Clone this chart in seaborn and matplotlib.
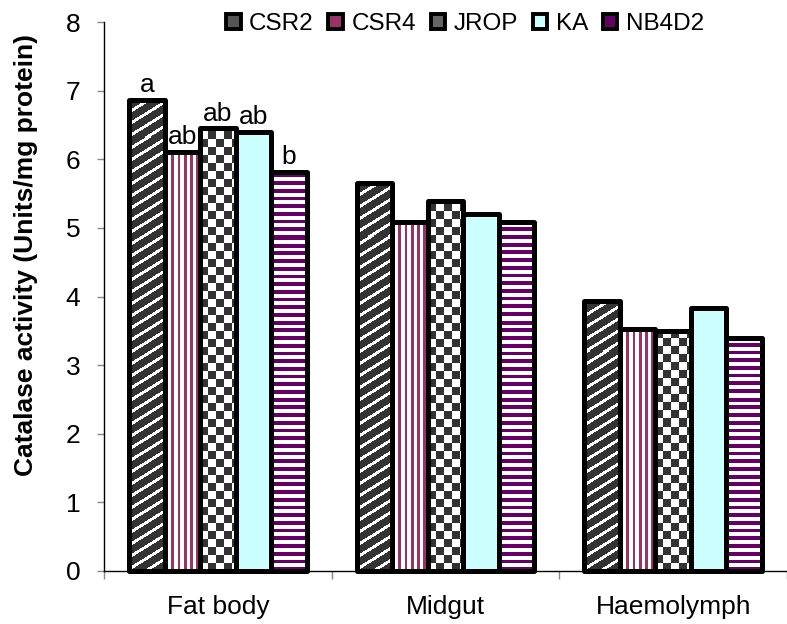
import numpy as np
import pandas as pd
import matplotlib
matplotlib.use('Agg')
import matplotlib.pyplot as plt
from matplotlib.colors import to_rgb
from matplotlib.patches import Rectangle, Patch
import seaborn as sns

# data
tissues = ['Fat body', 'Midgut', 'Haemolymph']
strains = ['CSR2', 'CSR4', 'JROP', 'KA', 'NB4D2']
csr2 = [6.87, 5.66, 3.94]
csr4 = [6.11, 5.09, 3.53]
jrop = [6.45, 5.39, 3.50]
ka = [6.40, 5.20, 3.83]
nb4d2 = [5.82, 5.09, 3.40]
fat_body_letters = ['a', 'ab', 'ab', 'ab', 'b']

# look of each strain: base colour, pattern ink, pattern kind
faces = {'CSR2': '#333333', 'CSR4': '#ffffff', 'JROP': '#ffffff', 'KA': '#ccffff', 'NB4D2': '#ffffff'}
inks = {'CSR2': '#ffffff', 'CSR4': '#993366', 'JROP': '#333333', 'KA': None, 'NB4D2': '#660066'}
legend_cols = {'CSR2': '#555555', 'CSR4': '#993366', 'JROP': '#666666', 'KA': '#ccffff', 'NB4D2': '#660066'}

df = pd.DataFrame({
    'tissue': tissues * 5,
    'strain': np.repeat(strains, 3),
    'activity': csr2 + csr4 + jrop + ka + nb4d2,
})


def pattern_mask(strain, nx, ny):
    # boolean ink mask in pixel units, row 0 at the bottom
    yy, xx = np.indices((ny, nx)) + 0.5
    if strain == 'CSR2':
        return ((yy - 0.62 * xx) % 12.0) < 3.5
    if strain == 'CSR4':
        return (xx % 6.3) < 2.8
    if strain == 'JROP':
        return ((xx // 8 + yy // 8) % 2) == 1
    if strain == 'NB4D2':
        return (yy % 7.7) < 3.8
    return np.zeros((ny, nx), bool)


sns.set_theme(style='white')
plt.rcParams['font.family'] = ['Liberation Sans', 'DejaVu Sans']
plt.rcParams.update({'text.color': 'black', 'axes.labelcolor': 'black',
                     'xtick.color': 'black', 'ytick.color': 'black'})

W, H = 787, 624
fig = plt.figure(figsize=(W / 100, H / 100), dpi=100)
ax = fig.add_axes([104 / W, 53 / H, 683 / W, 549 / H])

sns.barplot(data=df, x='tissue', y='activity', hue='strain', order=tissues,
            hue_order=strains, width=0.78, palette=faces, errorbar=None,
            legend=False, ax=ax)

xlim = (-0.5, -0.5 + 683 / 231)
ax.set_ylim(0, 8)
ax.set_xlim(*xlim)

# pixels per data unit
p0, p1 = ax.transData.transform([(0, 0), (1, 1)])
px_x, px_y = p1 - p0

for strain, cont in zip(strains, ax.containers):
    for bar in cont.patches:
        x, y = bar.get_x(), bar.get_y()
        w, h = bar.get_width(), bar.get_height()
        bar.set_facecolor(faces[strain])
        bar.set_linewidth(0)
        if inks[strain]:
            nx, ny = int(np.ceil(w * px_x)), int(np.ceil(h * px_y))
            mask = pattern_mask(strain, nx, ny)
            img = np.empty((ny, nx, 3))
            img[:] = to_rgb(faces[strain])
            img[mask] = to_rgb(inks[strain])
            im = ax.imshow(img, extent=(x, x + nx / px_x, y, y + ny / px_y), origin='lower',
                           interpolation='nearest', aspect='auto', zorder=2)
            im.set_clip_path(bar)
        outline = Rectangle((x, y), w, h, fill=False, edgecolor='black', linewidth=3.6,
                            joinstyle='round', zorder=4, clip_on=False)
        ax.add_patch(outline)

ax.set_ylim(0, 8)
ax.set_xlim(*xlim)

# significance letters on the fat body bars
for strain, cont, letter in zip(strains, ax.containers, fat_body_letters):
    bar = cont.patches[0]
    ax.annotate(letter, (bar.get_x() + bar.get_width() / 2, bar.get_height()),
                xytext=(0, 2), textcoords='offset points', ha='center', va='bottom',
                fontsize=19, color='black')

# axes styling
for s in ['top', 'right']:
    ax.spines[s].set_visible(False)
for s in ['left', 'bottom']:
    ax.spines[s].set_color('black')
    ax.spines[s].set_linewidth(1.0)

ax.set_yticks(range(0, 9))
ax.tick_params(axis='y', which='major', left=True, length=5, width=1, color='#888888',
               labelsize=19, pad=12, labelcolor='black')
ax.set_xticks([-0.5, 0.5, 1.5, 2.5], labels=['', '', '', ''])
ax.set_xticks([0, 1, 2], labels=tissues, minor=True)
ax.tick_params(axis='x', which='major', bottom=True, length=6, width=1, color='#888888')
ax.tick_params(axis='x', which='minor', bottom=True, length=0, labelsize=19, pad=17,
               labelcolor='black')
ax.set_xlabel('')
ax.set_ylabel('Catalase activity (Units/mg protein)', fontsize=19, fontweight='bold',
              color='black')
ax.yaxis.set_label_coords(-66 / 683, 0.576)

handles = [Patch(facecolor=legend_cols[s], edgecolor='black', linewidth=2.8, label=s)
           for s in strains]
fig.legend(handles=handles, loc='center', bbox_to_anchor=(465 / W, 1 - 24 / H), ncol=5,
           frameon=False, fontsize=17.5, handlelength=0.6, handleheight=0.6,
           handletextpad=0.35, columnspacing=0.6, borderaxespad=0, labelcolor='black')

fig.savefig('out.png', dpi=100)
